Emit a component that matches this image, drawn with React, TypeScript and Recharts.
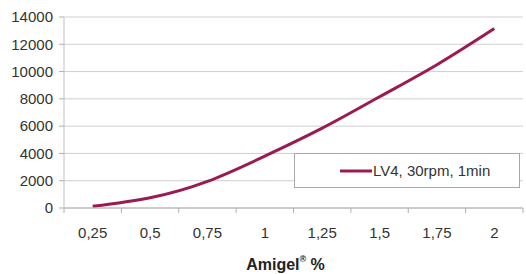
import React from 'react';
import { LineChart, Line, XAxis, YAxis, CartesianGrid, Legend } from 'recharts';

const categories = [0.25, 0.5, 0.75, 1, 1.25, 1.5, 1.75, 2];
const viscosity = [120, 750, 1950, 3800, 5850, 8150, 10500, 13150];
const yTicks = [0, 2000, 4000, 6000, 8000, 10000, 12000, 14000];
const seriesName = 'LV4, 30rpm, 1min';

const data = categories.map((c, i) => ({ x: c, v: viscosity[i] }));

const W = 526;
const H = 274;
const M = { top: 17, right: 3, left: 0, bottom: 10 };
const Y_W = 64;
const plotW = W - M.left - M.right - Y_W;
const halfBand = plotW / categories.length / 2;
const FONT = '"Liberation Sans", Arial, sans-serif';
const LINE_COLOR = '#9a1a52';

const fmt = (v: number) => String(v).replace('.', ',');

const XTick = (props: any) => {
  const { x, y, payload, index } = props;
  const last = index === categories.length - 1;
  return (
    <g>
      <line x1={x - halfBand} x2={x - halfBand} y1={y - 8} y2={y - 3} stroke="#b0b0b0" />
      {last && <line x1={x + halfBand} x2={x + halfBand} y1={y - 8} y2={y - 3} stroke="#b0b0b0" />}
      <text x={x} y={y + 22} textAnchor="middle" fontSize={15} fontFamily={FONT} fill="#333">
        {fmt(payload.value)}
      </text>
    </g>
  );
};

const AxisTitle = (props: any) => {
  const vb = props.viewBox || {};
  const cx = vb.x + vb.width / 2 - 8;
  return (
    <text x={cx} y={vb.y + vb.height + 6} textAnchor="middle" fontSize={16} fontWeight="bold" fontFamily={FONT} fill="#222">
      Amigel<tspan fontSize={9} dy={-8}>®</tspan><tspan dy={8}> %</tspan>
    </text>
  );
};

const LegendBox = () => (
  <div
    style={{
      width: 226,
      height: 35,
      boxSizing: 'border-box',
      border: '1px solid #a8a8a8',
      background: '#fff',
      display: 'flex',
      alignItems: 'center',
      fontFamily: FONT,
      fontSize: 15,
      color: '#333',
    }}
  >
    <svg width={32} height={10} style={{ marginLeft: 45, display: 'block' }}>
      <line x1={0} x2={32} y1={5} y2={5} stroke={LINE_COLOR} strokeWidth={3} />
    </svg>
    <span style={{ marginLeft: 1 }}>{seriesName}</span>
  </div>
);

export default function App() {
  return (
    <div style={{ position: 'absolute', left: 0, top: 0, width: W, height: H, background: '#fff' }}>
      <LineChart width={W} height={H} data={data} margin={M}>
        <CartesianGrid vertical={false} stroke="#cfcfcf" />
        <XAxis
          dataKey="x"
          type="number"
          domain={[categories[0] - 0.125, categories[categories.length - 1] + 0.125]}
          ticks={categories}
          tick={<XTick />}
          tickLine={false}
          axisLine={{ stroke: '#b0b0b0' }}
          height={56}
          interval={0}
          label={<AxisTitle />}
        />
        <YAxis
          width={Y_W}
          domain={[0, 14000]}
          ticks={yTicks}
          tickSize={5}
          tickMargin={6}
          tickLine={{ stroke: '#b0b0b0' }}
          axisLine={{ stroke: '#c0c0c0' }}
          tick={{ fontSize: 15, fontFamily: FONT, fill: '#333' }}
          interval={0}
        />
        <Legend
          layout="horizontal"
          verticalAlign="middle"
          align="center"
          content={<LegendBox />}
          wrapperStyle={{ position: 'absolute', left: 294, top: 153, width: 226, height: 35 }}
        />
        <Line
          type="natural"
          dataKey="v"
          name={seriesName}
          stroke={LINE_COLOR}
          strokeWidth={3}
          dot={false}
          isAnimationActive={false}
        />
      </LineChart>
    </div>
  );
}
